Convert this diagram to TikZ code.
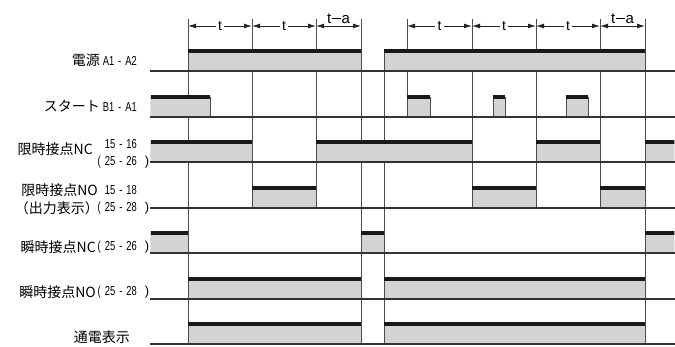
\documentclass[tikz,border=0pt]{standalone}
\usepackage{fontspec}
\setmainfont{Liberation Sans}
\newfontfamily\jpfont{Noto Sans CJK JP}
\newfontfamily\pinfont[FakeStretch=0.72]{Liberation Sans}
\usetikzlibrary{arrows.meta}
\definecolor{ongray}{HTML}{D1D3D4}
\newcommand{\pins}[2]{#1\hspace{4pt}-\hspace{4pt}#2}

\begin{document}
\begin{tikzpicture}[
    x=1pt, y=-1pt,
    jp label/.style={anchor=east, inner sep=0pt, font=\jpfont\fontsize{14}{14}\selectfont},
    pin label/.style={anchor=east, inner sep=0pt, font=\pinfont\fontsize{13}{13}\selectfont},
    paren/.style={inner sep=0pt, font=\fontsize{13}{13}\selectfont},
    time line/.style={draw=black!70, line width=1pt},
    base line/.style={draw=black!80, line width=1.4pt},
    on fill/.style={fill=ongray},
    on edge/.style={draw=black!70, line width=0.9pt},
    on top/.style={draw=black!90, line width=4pt},
    dim line/.style={draw=black!85, line width=0.9pt, >={Latex[length=8pt,width=5pt]}, <->},
    t label/.style={fill=white, inner sep=2.5pt, font=\fontsize{14}{14}\selectfont}
]
\useasboundingbox (0,0) rectangle (675,347);

% 時間の区切り線
\foreach \x in {188, 361, 645} \draw[time line] (\x,19) -- (\x,344);
\foreach \x in {252, 316, 472, 536, 600} \draw[time line] (\x,19) -- (\x,208);
\draw[time line] (407,19) -- (407,117);
\draw[time line] (384,49) -- (384,344);

% t の寸法線
\foreach \a/\b [count=\i] in {188/252, 252/316, 407/472, 472/536, 536/600}
  \draw[dim line] (\a,26) -- node[t label] (t\i) {t} (\b,26);
\foreach \a/\b [count=\i] in {316/361, 600/645}
  \draw[dim line] (\a,26) -- node[midway, above=2pt, inner sep=0pt, font=\fontsize{15}{15}\selectfont] (ta\i) {t\kern0.5pt\rule[0.3em]{0.6em}{0.06em}\kern0.8pt a} (\b,26);

% ON 区間 (下線 y / 始点 / 終点)
\begin{scope}
\clip (150.8,0) rectangle (674.4,347);
\foreach \y/\a/\b in {71/188/361, 71/384/645,
    117/150/210, 117/407/430, 117/493/505, 117/566/588,
    162/150/252, 162/316/472, 162/536/600, 162/645/675,
    208/252/316, 208/472/536, 208/600/645,
    253/150/188, 253/361/384, 253/645/675,
    299/188/361, 299/384/645,
    344/188/361, 344/384/645} {
  \fill[on fill] (\a,\y) rectangle (\b,\y-20);
  \draw[on edge] (\a,\y) -- (\a,\y-20) (\b,\y) -- (\b,\y-20);
  \draw[on top] (\a,\y-20) -- (\b,\y-20);
}
\end{scope}

\foreach \y in {71, 117, 162, 208, 253, 299, 344} \draw[base line] (150,\y) -- (675,\y);

% 信号名
\node[jp label] (pw) at (100,60) {電源};
\node[pin label] (pw-p) at (137,61) {\pins{A1}{A2}};

\node[jp label] (st) at (100,106) {スタート};
\node[pin label] (st-p) at (137,107) {\pins{B1}{A1}};

\node[jp label] (tnc) at (93,149) {限時接点NC};
\node[pin label] (tnc-p1) at (137,144) {\pins{15}{16}};
\node[pin label] (tnc-p2) at (137,162) {(\hspace{4pt}\pins{25}{26}};
\node[paren] (tnc-r) at (147,162) {)};

\node[jp label] (tno) at (98,190) {限時接点NO};
\node[pin label] (tno-p1) at (137,190) {\pins{15}{18}};
\node[jp label] (out) at (99,208) {（出力表示）};
\node[pin label] (tno-p2) at (137,208) {(\hspace{4pt}\pins{25}{28}};
\node[paren] (tno-r) at (147,208) {)};

\node[jp label] (inc) at (96,247) {瞬時接点NC};
\node[pin label] (inc-p) at (137,247) {(\hspace{4pt}\pins{25}{26}};
\node[paren] (inc-r) at (147,247) {)};

\node[jp label] (ino) at (96,292) {瞬時接点NO};
\node[pin label] (ino-p) at (137,292) {(\hspace{4pt}\pins{25}{28}};
\node[paren] (ino-r) at (147,292) {)};

\node[jp label] (lamp) at (130,337) {通電表示};

\end{tikzpicture}
\end{document}
